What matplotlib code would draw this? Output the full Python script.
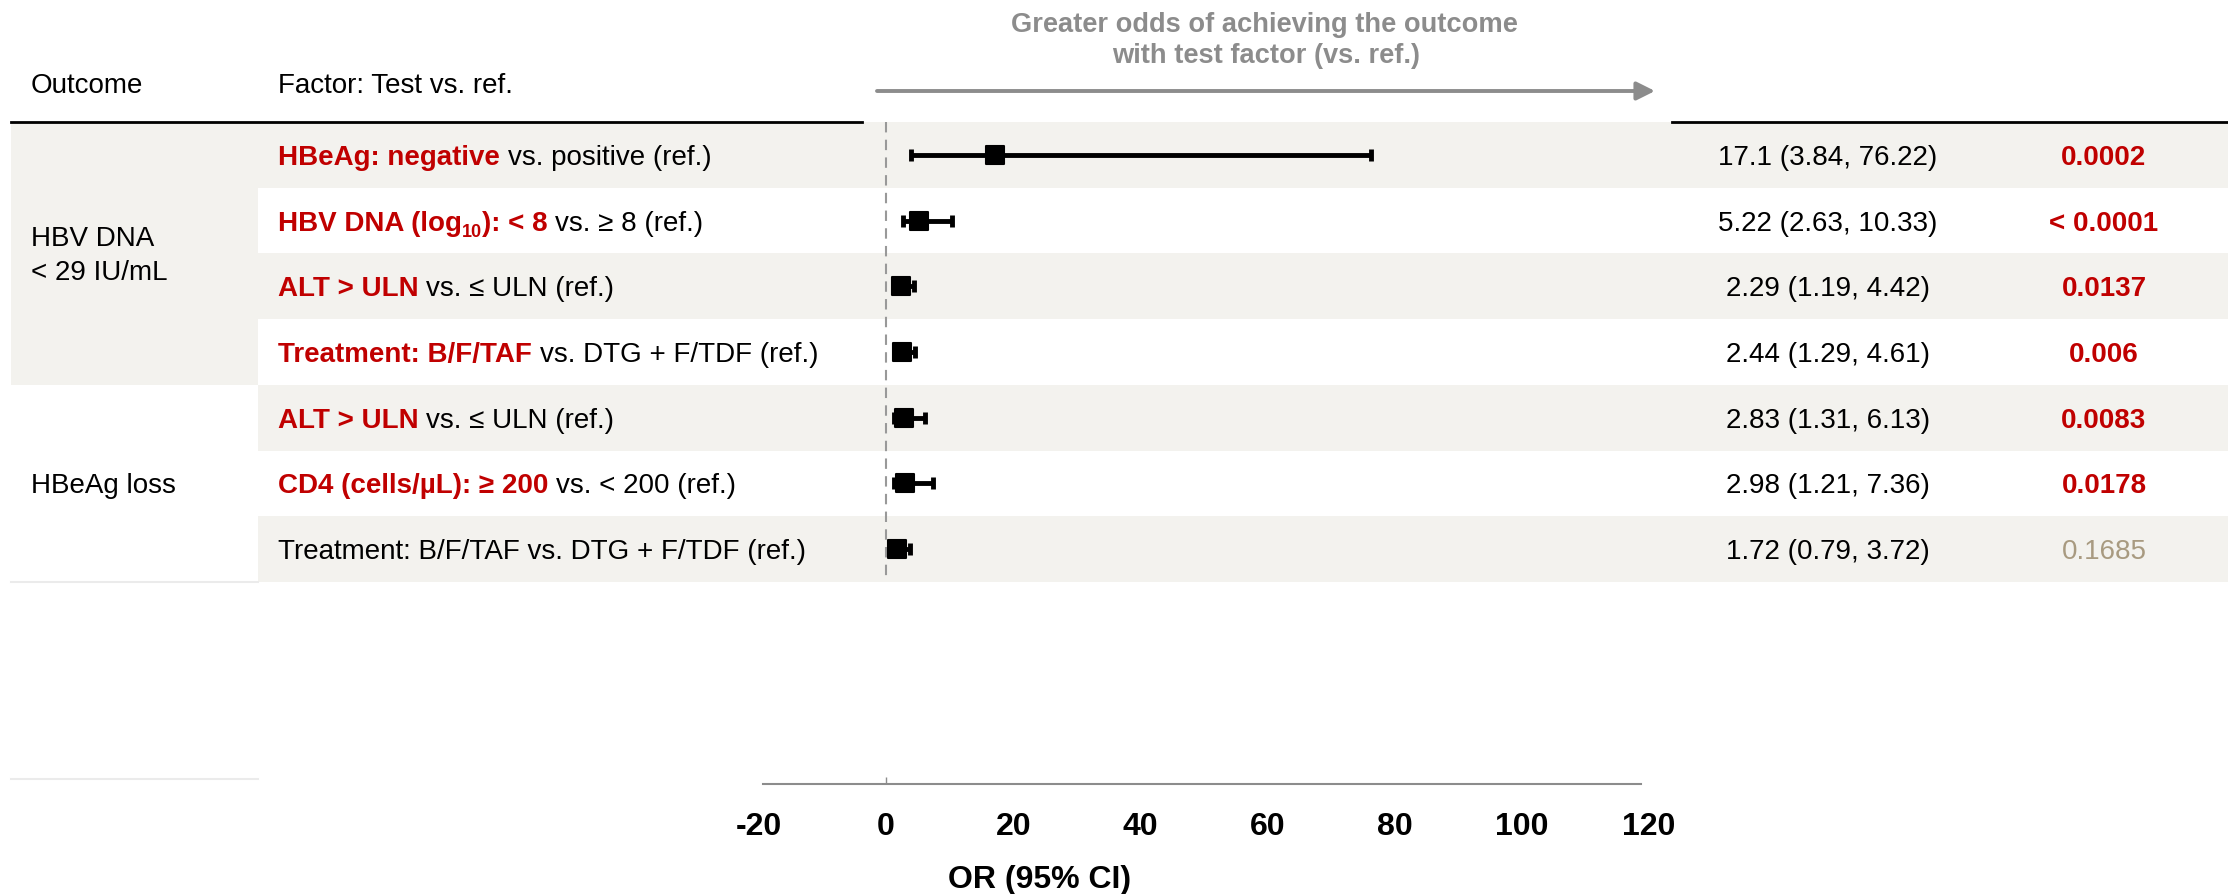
import matplotlib
matplotlib.use('Agg')
import matplotlib.pyplot as plt
from matplotlib.markers import MarkerStyle

plt.rcParams['font.family'] = ['Liberation Sans', 'DejaVu Sans']
plt.rcParams['axes.unicode_minus'] = False

# ---- data ----
outcome_labels = ['HBV DNA\n< 29 IU/mL', 'HBeAg loss']
outcome_sizes = [4, 3]            # number of factor rows per outcome

# factor label pieces: (text, style)  style: 'hi' = red bold, 'sub' = red bold subscript, 'n' = normal
# a leading space in the text means a word gap before the piece
factor_labels = [
    [('HBeAg: negative', 'hi'), (' vs. positive (ref.)', 'n')],
    [('HBV DNA (log', 'hi'), ('10', 'sub'), ('): < 8', 'hi'), (' vs. ≥ 8 (ref.)', 'n')],
    [('ALT > ULN', 'hi'), (' vs. ≤ ULN (ref.)', 'n')],
    [('Treatment: B/F/TAF', 'hi'), (' vs. DTG + F/TDF (ref.)', 'n')],
    [('ALT > ULN', 'hi'), (' vs. ≤ ULN (ref.)', 'n')],
    [('CD4 (cells/µL): ≥ 200', 'hi'), (' vs. < 200 (ref.)', 'n')],
    [('Treatment: B/F/TAF vs. DTG + F/TDF (ref.)', 'n')],
]
odds_ratio = [17.1, 5.22, 2.29, 2.44, 2.83, 2.98, 1.72]
ci_low = [3.84, 2.63, 1.19, 1.29, 1.31, 1.21, 0.79]
ci_high = [76.22, 10.33, 4.42, 4.61, 6.13, 7.36, 3.72]
p_values = ['0.0002', '< 0.0001', '0.0137', '0.006', '0.0083', '0.0178', '0.1685']
p_significant = [True, True, True, True, True, True, False]

tick_values = [-20, 0, 20, 40, 60, 80, 100, 120]
tick_labels = ['-20', '0', '20', '40', '60', '80', '100', '120']

# ---- layout (pixels) ----
W, H = 2228, 894
TOP = 122            # header rule / first row top
ROW_H = 65.7
AX_BOTTOM = 784      # forest x-axis line
X_NEG20, X_120 = 759, 1649
OUT_X0, FAC_X0 = 11, 258
RED = '#c00000'
BAND = '#f3f2ee'
NS_COLOR = '#a89a80'
GREY = '#8c8c8c'
FS = 20

fig = plt.figure(figsize=(W / 100, H / 100), dpi=100)
bg = fig.add_axes([0, 0, 1, 1])
bg.set_xlim(0, W)
bg.set_ylim(H, 0)
bg.axis('off')
renderer = fig.canvas.get_renderer()

n_rows = len(odds_ratio)

# row bands
for i in range(n_rows):
    y0 = TOP + i * ROW_H
    if i % 2 == 0:
        bg.add_patch(plt.Rectangle((FAC_X0, y0), W - FAC_X0, ROW_H, color=BAND, lw=0, zorder=0))
# outcome cells
start = 0
for k, n in enumerate(outcome_sizes):
    y0 = TOP + start * ROW_H
    if k % 2 == 0:
        bg.add_patch(plt.Rectangle((OUT_X0, y0), FAC_X0 - OUT_X0, n * ROW_H, color=BAND, lw=0, zorder=0))
    yc = y0 + n * ROW_H / 2
    lines = outcome_labels[k].split('\n')
    lh = 34
    for j, ln in enumerate(lines):
        yb = yc + 10 + (j - (len(lines) - 1) / 2) * lh
        bg.text(31, yb, ln, fontsize=FS, va='baseline', ha='left')
    start += n
bg.plot([OUT_X0, FAC_X0], [TOP + n_rows * ROW_H] * 2, color='#ebebeb', lw=1.5, zorder=1)
bg.plot([OUT_X0, FAC_X0], [TOP + 10 * ROW_H] * 2, color='#ebebeb', lw=1.5, zorder=1)

# headers
bg.text(31, 93, 'Outcome', fontsize=FS, va='baseline')
bg.text(278, 93, 'Factor: Test vs. ref.', fontsize=FS, va='baseline')
bg.plot([OUT_X0, 862], [TOP, TOP], color='black', lw=2, zorder=3)
bg.plot([1672, W], [TOP, TOP], color='black', lw=2, zorder=3)
bg.text(1264, 32, 'Greater odds of achieving the outcome', fontsize=19.6, fontweight='bold',
        color=GREY, ha='center', va='baseline')
bg.text(1266, 63, 'with test factor (vs. ref.)', fontsize=19.6, fontweight='bold',
        color=GREY, ha='center', va='baseline')
bg.annotate('', xy=(1655, 91), xytext=(877, 91),
            arrowprops=dict(arrowstyle='-|>,head_length=1.1,head_width=0.55', color=GREY,
                            lw=2.8, shrinkA=0, shrinkB=0))

# space width
t1 = bg.text(0, 0, 'a a', fontsize=FS)
t2 = bg.text(0, 0, 'aa', fontsize=FS)
space_w = t1.get_window_extent(renderer).width - t2.get_window_extent(renderer).width
t1.remove()
t2.remove()

# factor labels, OR text, p values
for i in range(n_rows):
    yb = TOP + (i + 0.5) * ROW_H + 10
    x = 278
    for txt, style in factor_labels[i]:
        if txt.startswith(' '):
            x += space_w
            txt = txt.lstrip()
        if style == 'sub':
            t = bg.text(x, yb + 6, txt, fontsize=13, fontweight='bold', color=RED, va='baseline')
        elif style == 'hi':
            t = bg.text(x, yb, txt, fontsize=FS, fontweight='bold', color=RED, va='baseline')
        else:
            t = bg.text(x, yb, txt, fontsize=FS, color='black', va='baseline')
        x += t.get_window_extent(renderer).width
    or_txt = f'{odds_ratio[i]:g} ({ci_low[i]:g}, {ci_high[i]:g})'
    bg.text(1828, yb, or_txt, fontsize=FS, ha='center', va='baseline')
    if p_significant[i]:
        bg.text(2104, yb, p_values[i], fontsize=FS, fontweight='bold', color=RED, ha='center', va='baseline')
    else:
        bg.text(2104, yb, p_values[i], fontsize=FS, color=NS_COLOR, ha='center', va='baseline')

# ---- forest plot axes ----
fax = fig.add_axes([X_NEG20 / W, (H - AX_BOTTOM) / H, (X_120 - X_NEG20) / W, (AX_BOTTOM - TOP) / H])
fax.patch.set_alpha(0)
fax.set_xlim(tick_values[0], tick_values[-1])
fax.set_ylim((AX_BOTTOM - TOP) / ROW_H, 0)
for s in ['top', 'right', 'left']:
    fax.spines[s].set_visible(False)
fax.spines['bottom'].set_color(GREY)
fax.spines['bottom'].set_linewidth(1.5)
fax.spines['bottom'].set_bounds(-19.4, 118.8)
fax.set_yticks([])
fax.set_xticks(tick_values)
fax.set_xticklabels(tick_labels, fontsize=23, fontweight='bold')
fax.tick_params(axis='x', which='major', length=0, pad=20)
fax.xaxis.remove_overlapping_locs = False
fax.set_xticks([0], minor=True)
fax.tick_params(axis='x', which='minor', direction='in', length=5, width=1, color=GREY)

ys = [i + 0.5 for i in range(n_rows)]
xerr = [[o - l for o, l in zip(odds_ratio, ci_low)], [h - o for o, h in zip(odds_ratio, ci_high)]]
fax.plot([0, 0], [0, n_rows], color='#999999', lw=1.5, ls=(0, (5, 3.5)), zorder=1)
fax.errorbar(odds_ratio, ys, xerr=xerr, fmt='none', ecolor='black',
             elinewidth=3.5, capsize=4.3, capthick=3.5, zorder=3)
fax.plot(odds_ratio, ys, ls='none', marker=MarkerStyle('s', joinstyle='round'), ms=12.5,
         mfc='black', mec='black', mew=1.5, zorder=4)

fig.text(1040 / W, 1 - 888 / H, 'OR (95% CI)', fontsize=23, fontweight='bold', ha='center', va='baseline')

fig.savefig('out.png', dpi=100)
